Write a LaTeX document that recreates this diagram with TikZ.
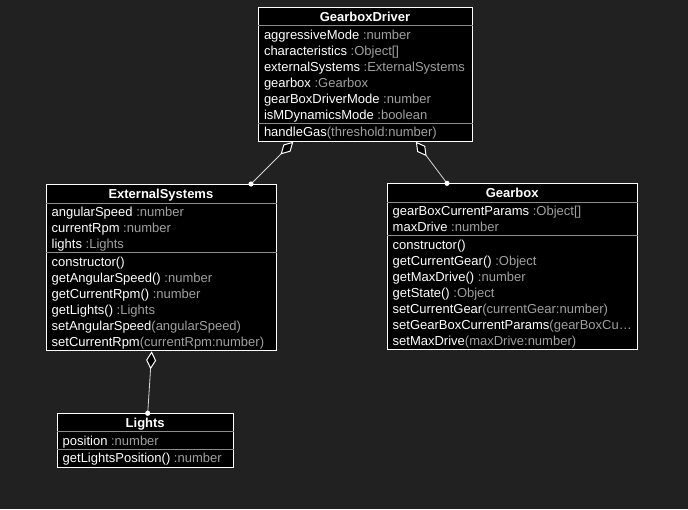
\documentclass[tikz,border=0pt]{standalone}
\usepackage{fontspec}
\setmainfont{Liberation Sans}
\usetikzlibrary{arrows.meta,calc}
\definecolor{bg}{HTML}{212121}
\definecolor{typ}{HTML}{A0A0A0}
\definecolor{sepc}{HTML}{8C8C8C}
\definecolor{conn}{HTML}{D8D8D8}
\newcommand\ty[1]{\textcolor{typ}{#1}}
\newcommand\rowat[4]{\node[txt] (#1) at (#2,#3) {#4};}
\begin{document}
\begin{tikzpicture}[x=1pt,y=-1pt,font=\fontsize{13}{16}\selectfont,
  classbox/.style={draw=white,line width=1pt,fill=black,inner sep=0pt,anchor=north west},
  txt/.style={inner sep=0pt,text=white,anchor=base west},
  ttl/.style={inner sep=0pt,text=white,anchor=base,font=\fontsize{13}{16}\selectfont\bfseries},
  sepline/.style={draw=sepc,line width=0.9pt},
  agg/.style={draw=conn,line width=0.8pt,{Diamond[length=18pt,width=10pt,fill=black,line width=1pt,color=white]}-},
  dot/.style={fill=white}]
\fill[bg] (0,0) rectangle (688,509);
\useasboundingbox (0,0) rectangle (688,509);

% GearboxDriver
\node[classbox,minimum width=213.4pt,minimum height=133.4pt] (gd) at (258.3,7.3) {};
\draw[sepline] ($(gd.north west)+(0,18.4)$) -- ($(gd.north east)+(0,18.4)$);
\draw[sepline] ($(gd.north west)+(0,115.9)$) -- ($(gd.north east)+(0,115.9)$);
\node[ttl] (gdt) at (365,21.6) {GearboxDriver};
\rowat{gd1}{263.8}{39.2}{aggressiveMode \ty{:number}}
\rowat{gd2}{263.8}{55.2}{characteristics \ty{:Object[]}}
\rowat{gd3}{263.8}{71.2}{externalSystems \ty{:ExternalSystems}}
\rowat{gd4}{263.8}{87.2}{gearbox \ty{:Gearbox}}
\rowat{gd5}{263.8}{103.2}{gearBoxDriverMode \ty{:number}}
\rowat{gd6}{263.8}{119.2}{isMDynamicsMode \ty{:boolean}}
\rowat{gd7}{263.8}{136.4}{handleGas\ty{(threshold:number)}}

% ExternalSystems
\node[classbox,minimum width=229.7pt,minimum height=166.3pt] (es) at (46,184) {};
\draw[sepline] ($(es.north west)+(0,19.3)$) -- ($(es.north east)+(0,19.3)$);
\draw[sepline] ($(es.north west)+(0,68.8)$) -- ($(es.north east)+(0,68.8)$);
\node[ttl] (est) at (160.9,198.6) {ExternalSystems};
\rowat{es1}{51.5}{216.6}{angularSpeed \ty{:number}}
\rowat{es2}{51.5}{232.6}{currentRpm \ty{:number}}
\rowat{es3}{51.5}{248.6}{lights \ty{:Lights}}
\rowat{es4}{51.5}{266}{constructor()}
\rowat{es5}{51.5}{282}{getAngularSpeed() \ty{:number}}
\rowat{es6}{51.5}{298}{getCurrentRpm() \ty{:number}}
\rowat{es7}{51.5}{314}{getLights() \ty{:Lights}}
\rowat{es8}{51.5}{330}{setAngularSpeed\ty{(angularSpeed)}}
\rowat{es9}{51.5}{346}{setCurrentRpm\ty{(currentRpm:number)}}

% Gearbox
\node[classbox,minimum width=250.3pt,minimum height=166pt] (gb) at (387,183.3) {};
\draw[sepline] ($(gb.north west)+(0,19)$) -- ($(gb.north east)+(0,19)$);
\draw[sepline] ($(gb.north west)+(0,52.5)$) -- ($(gb.north east)+(0,52.5)$);
\node[ttl] (gbt) at (512.2,197.9) {Gearbox};
\rowat{gb1}{392.5}{215.6}{gearBoxCurrentParams \ty{:Object[]}}
\rowat{gb2}{392.5}{231.6}{maxDrive \ty{:number}}
\rowat{gb3}{392.5}{249}{constructor()}
\rowat{gb4}{392.5}{265}{getCurrentGear() \ty{:Object}}
\rowat{gb5}{392.5}{281}{getMaxDrive() \ty{:number}}
\rowat{gb6}{392.5}{297}{getState() \ty{:Object}}
\rowat{gb7}{392.5}{313}{setCurrentGear\ty{(currentGear:number)}}
\rowat{gb8}{392.5}{329}{setGearBoxCurrentParams\ty{(gearBoxCu…}}
\rowat{gb9}{392.5}{345}{setMaxDrive\ty{(maxDrive:number)}}

% Lights
\node[classbox,minimum width=176.3pt,minimum height=53.4pt] (li) at (57,413.3) {};
\draw[sepline] ($(li.north west)+(0,18.4)$) -- ($(li.north east)+(0,18.4)$);
\draw[sepline] ($(li.north west)+(0,35.9)$) -- ($(li.north east)+(0,35.9)$);
\node[ttl] (lit) at (145.2,427.8) {Lights};
\rowat{li1}{62.5}{445}{position \ty{:number}}
\rowat{li2}{62.5}{462.4}{getLightsPosition() \ty{:number}}

% connectors
\coordinate (c1s) at ($(gd.south west)+(35,0)$);
\coordinate (c1e) at ($(es.north west)+(205,0)$);
\coordinate (c2s) at ($(gd.south west)+(157.5,0)$);
\coordinate (c2e) at ($(gb.north west)+(60,0)$);
\coordinate (c3s) at ($(es.south west)+(105.7,0)$);
\coordinate (c3e) at ($(li.north west)+(90.7,0)$);
\draw[agg] (c1s) -- (c1e);
\draw[agg] (c2s) -- (c2e);
\draw[agg] (c3s) -- (c3e);
\fill[dot] (c1e) circle (2.6);
\fill[dot] (c2e) circle (2.6);
\fill[dot] (c3e) circle (2.6);
\end{tikzpicture}
\end{document}
